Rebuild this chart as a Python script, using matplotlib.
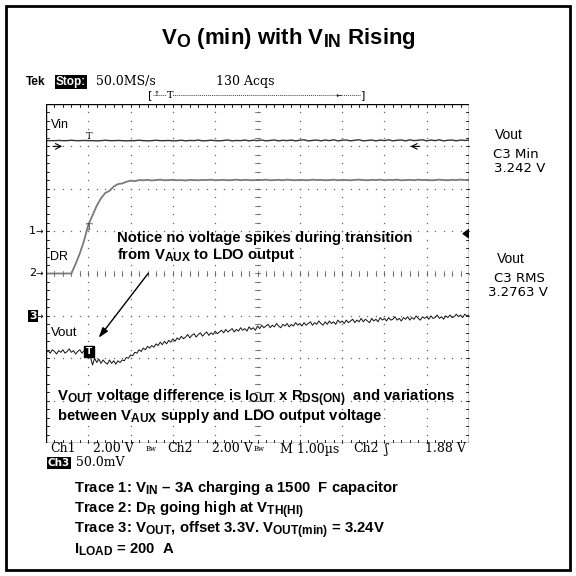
import numpy as np
import matplotlib
matplotlib.use("Agg")
import matplotlib.pyplot as plt
from matplotlib.patches import Rectangle, Polygon
import matplotlib._mathtext as _mt

_mt.SHRINK_FACTOR = 0.8
plt.rcParams['mathtext.fontset'] = 'custom'
plt.rcParams['mathtext.bf'] = 'Liberation Sans:bold'
plt.rcParams['mathtext.rm'] = 'Liberation Sans'
plt.rcParams['mathtext.default'] = 'bf'

# ---------------- data ----------------
# scope settings
ch1_scale = 2.0    # V/div
ch2_scale = 2.0    # V/div
ch3_scale = 50.0   # mV/div (offset 3.3 V)
ch1_pos, ch2_pos, ch3_pos = 1.0, 0.0, -1.0   # ground marker positions (div)
t_start, t_stop = 0.0, 10.0                  # us (1.00 us/div)
trig_t = 1.02
trig_level = 1.88

# Ch1: Vin (V), sampled every 0.1 us
vin = [4.27,4.27,4.27,4.28,4.27,4.27,4.29,4.27,4.27,4.28,
       4.27,4.27,4.26,4.27,4.29,4.27,4.27,4.28,4.27,4.26,
       4.27,4.27,4.29,4.27,4.26,4.27,4.29,4.27,4.27,4.28,
       4.26,4.27,4.29,4.26,4.28,4.27,4.30,4.26,4.27,4.29,
       4.27,4.26,4.28,4.30,4.26,4.28,4.27,4.30,4.26,4.29,
       4.27,4.30,4.26,4.28,4.30,4.26,4.29,4.27,4.30,4.26,
       4.29,4.31,4.26,4.28,4.30,4.26,4.30,4.27,4.31,4.26,
       4.29,4.30,4.26,4.29,4.31,4.26,4.28,4.30,4.26,4.30,
       4.27,4.31,4.26,4.29,4.30,4.26,4.31,4.27,4.29,4.31,
       4.26,4.30,4.27,4.31,4.26,4.29,4.30,4.26,4.30,4.28,
       4.29]

# Ch2: DR (V), sampled every 0.1 us
dr = [0.00,0.00,0.00,0.00,0.00,0.00,0.00,0.45,0.95,1.55,
      2.30,2.75,3.20,3.55,3.80,3.90,4.10,4.22,4.25,4.33,
      4.38,4.36,4.41,4.40,4.42,4.39,4.41,4.43,4.40,4.41,
      4.42,4.40,4.41,4.39,4.42,4.41,4.40,4.42,4.41,4.43,
      4.40,4.41,4.42,4.40,4.41,4.43,4.40,4.42,4.41,4.40,
      4.42,4.41,4.43,4.40,4.41,4.42,4.40,4.43,4.41,4.40,
      4.42,4.41,4.40,4.43,4.41,4.42,4.40,4.41,4.43,4.40,
      4.42,4.41,4.40,4.42,4.43,4.41,4.40,4.42,4.41,4.43,
      4.40,4.42,4.41,4.43,4.40,4.41,4.42,4.40,4.43,4.41,
      4.42,4.40,4.41,4.43,4.41,4.40,4.42,4.41,4.43,4.41,
      4.42]

# Ch3: Vout - 3.3 V (mV), sampled every 0.05 us
vout_mv = [-43,-41,-44,-40,-42,-45,-41,-43,-40,-44,-42,-39,-43,-41,-45,-42,-40,-44,-41,-42,
           -44,-48,-58,-50,-55,-51,-56,-52,-55,-57,-52,-56,-53,-57,-53,-55,-52,-53,-49,-50,
           -46,-47,-43,-44,-40,-42,-38,-40,-36,-38,-35,-37,-33,-35,-31,-34,-30,-33,-29,-31,
           -27,-30,-26,-28,-24,-27,-25,-22,-26,-23,-21,-25,-22,-20,-24,-21,-19,-23,-20,-22,
           -18,-21,-19,-17,-20,-16,-19,-17,-15,-19,-16,-18,-14,-17,-15,-18,-13,-16,-14,-17,
           -12,-15,-11,-14,-12,-10,-14,-11,-13,-9,-12,-14,-10,-12,-9,-13,-10,-12,-8,-11,
           -9,-12,-8,-11,-9,-7,-11,-8,-10,-6,-9,-11,-7,-10,-6,-9,-7,-10,-5,-8,
           -6,-9,-5,-8,-6,-4,-8,-5,-7,-3,-7,-4,-6,-8,-3,-6,-4,-7,-2,-5,
           -3,-6,-2,-5,-4,-1,-5,-3,-6,-2,-4,-1,-5,-2,-4,0,-3,-5,-1,-3,
           -1,-4,0,-3,-2,1,-3,-1,-4,0,-2,1,-2,-1,2,-1,1,-2,2,0,
           1]

# ---------------- figure ----------------
W = H = 576
fig = plt.figure(figsize=(5.76, 5.76), dpi=100)

def P(x, y):
    return (x / W, 1 - y / H)

# outer frame
fig.patches.append(Rectangle(P(6, 570), 564 / W, 564 / H, transform=fig.transFigure,
                             fill=False, lw=2.0, ec='black'))

gl, gt, gr, gb = 46, 104, 469, 443
ax = fig.add_axes([gl / W, 1 - gb / H, (gr - gl) / W, (gb - gt) / H])
ax.set_xlim(0, 10)
ax.set_ylim(-4, 4)
ax.axis('off')

# border
ax.add_patch(Rectangle((0, -4), 10, 8, fill=False, lw=1.0, ec='black', zorder=5))

dotc = '#666666'
fine = np.arange(0, 10.001, 0.2)
fine_y = np.arange(-4, 4.001, 0.2)
for gx in range(1, 10):
    ax.plot(np.full_like(fine_y, gx), fine_y, ls='none', marker='s', ms=0.9, mew=0, color=dotc)
for gy in range(-3, 4):
    ax.plot(fine, np.full_like(fine, gy), ls='none', marker='s', ms=0.9, mew=0, color=dotc)
# centre line ticks
for v in fine:
    ax.plot([v, v], [-0.07, 0.07], color=dotc, lw=0.6)
for v in fine_y:
    ax.plot([4.93, 5.07], [v, v], color=dotc, lw=0.6)
# border ticks
for v in fine:
    ax.plot([v, v], [4, 3.93], color='black', lw=0.6)
    ax.plot([v, v], [-4, -3.93], color='black', lw=0.6)
for v in fine_y:
    ax.plot([0, 0.07], [v, v], color='black', lw=0.6)
    ax.plot([10, 9.93], [v, v], color='black', lw=0.6)

t = np.linspace(t_start, t_stop, len(vin))
ax.plot(t, ch1_pos + np.array(vin) / ch1_scale, color='#333333', lw=1.0, zorder=3)
t2 = np.linspace(t_start, t_stop, len(dr))
ax.plot(t2, ch2_pos + np.array(dr) / ch2_scale, color='#7a7a7a', lw=1.3, zorder=3)
t3 = np.linspace(t_start, t_stop, len(vout_mv))
ax.plot(t3, ch3_pos + np.array(vout_mv) / ch3_scale, color='#111111', lw=0.7, zorder=4)

# trigger markers on traces
ax.text(trig_t, ch1_pos + vin[10] / ch1_scale, 'T', fontsize=7, family='DejaVu Serif',
        ha='center', va='bottom', color='#222222')
ax.text(trig_t, ch2_pos + trig_level / ch2_scale + 0.05, 'T', fontsize=7, family='DejaVu Serif',
        ha='center', va='bottom', color='#444444')
vy = ch3_pos + vout_mv[20] / ch3_scale
ax.add_patch(Rectangle((trig_t - 0.11, vy - 0.1), 0.22, 0.28, color='black', zorder=6))
ax.text(trig_t, vy + 0.04, 'T', fontsize=6.5, fontweight='bold', family='DejaVu Sans', color='white',
        ha='center', va='center', zorder=7)
# trigger level marker on right
ax.add_patch(Polygon([[9.86, ch2_pos + trig_level / ch2_scale], [10.0, ch2_pos + trig_level / ch2_scale + 0.1],
                      [10.0, ch2_pos + trig_level / ch2_scale - 0.1]], closed=True, color='black', zorder=6))
# small arrows at Vin level row
ax.annotate('', xy=(0.45, 3.0), xytext=(0.1, 3.0), arrowprops=dict(arrowstyle='->', lw=0.8, color='black'))
ax.annotate('', xy=(8.55, 3.0), xytext=(8.9, 3.0), arrowprops=dict(arrowstyle='->', lw=0.8, color='black'))

# trace labels inside graticule
ax.text(0.12, 3.5, 'Vin', fontsize=9, family='Liberation Sans', va='center', ha='left')
ax.text(0.1, 0.4, 'DR', fontsize=9, family='Liberation Sans', va='center', ha='left')
ax.text(0.12, -1.4, 'Vout', fontsize=9.5, family='Liberation Sans', va='center', ha='left')

# ---------------- figure texts ----------------
fig.text(*P(288, 44), r'V$_{O}$ (min) with V$_{IN}$ Rising', fontsize=16, fontweight='bold',
         family='Liberation Sans', ha='center', va='baseline')

fig.text(*P(26, 82), 'Tek', fontsize=8.5, fontweight='bold', family='Liberation Sans', va='center')
fig.text(*P(56, 82), 'Stop:', fontsize=8.5, fontweight='bold', family='Liberation Sans', va='center',
         color='white', bbox=dict(boxstyle='square,pad=0.08', fc='black', ec='none'))
fig.text(*P(96, 82), '50.0MS/s', fontsize=9, family='DejaVu Serif', va='center')
fig.text(*P(216, 82), '130 Acqs', fontsize=9, family='DejaVu Serif', va='center')

# record bracket
fig.text(*P(150, 95), '[', fontsize=8, family='DejaVu Sans', va='center', ha='center')
fig.text(*P(363, 95), ']', fontsize=8, family='DejaVu Sans', va='center', ha='center')
fig.lines.append(plt.Line2D([153 / W, 360 / W], [1 - 95 / H, 1 - 95 / H], transform=fig.transFigure,
                            color='#444444', lw=0.7, ls=(0, (1, 1))))
fig.text(*P(157, 94), '↑', fontsize=5, family='DejaVu Sans', va='center', ha='center')
fig.text(*P(170, 95), 'T', fontsize=7, family='DejaVu Serif', va='center', ha='center',
         bbox=dict(boxstyle='square,pad=0', fc='white', ec='none'))
fig.text(*P(339, 95), '←', fontsize=6, family='DejaVu Sans', va='center', ha='center',
         bbox=dict(boxstyle='square,pad=0', fc='white', ec='none'))

# channel ground markers
for lab, yy in (('1', 231), ('2', 273)):
    fig.text(*P(29, yy), lab, fontsize=8, family='DejaVu Sans', va='center', ha='left')
fig.text(*P(29, 316), '3', fontsize=8, fontweight='bold', family='DejaVu Sans', va='center', ha='left',
         color='white', bbox=dict(boxstyle='square,pad=0.1', fc='black', ec='none'))
for yy in (231, 273, 316):
    fig.text(*P(36, yy), '→', fontsize=6.5, family='DejaVu Sans', va='center', ha='left')

# right side measurements
fig.text(*P(495, 135), 'Vout', fontsize=10, family='Liberation Sans', va='center')
fig.text(*P(493, 154), 'C3 Min', fontsize=9.5, family='DejaVu Sans', va='center')
fig.text(*P(494, 168), '3.242 V', fontsize=9.5, family='DejaVu Sans', va='center')
fig.text(*P(497, 259), 'Vout', fontsize=10, family='Liberation Sans', va='center')
fig.text(*P(494, 278), 'C3 RMS', fontsize=9.5, family='DejaVu Sans', va='center')
fig.text(*P(488, 292), '3.2763 V', fontsize=9.5, family='DejaVu Sans', va='center')

# annotations
fig.text(*P(117, 242), 'Notice no voltage spikes during transition', fontsize=10.7, fontweight='bold',
         family='Liberation Sans', va='baseline')
fig.text(*P(117, 259), r'from V$_{AUX}$ to LDO output', fontsize=10.7, fontweight='bold',
         family='Liberation Sans', va='baseline')
ax.annotate('', xy=P(97, 340), xytext=P(150, 271), xycoords='figure fraction',
            textcoords='figure fraction',
            arrowprops=dict(arrowstyle='-|>,head_length=0.6,head_width=0.2', lw=1.0, color='black'))
fig.text(*P(57, 401), r'V$_{OUT}$ voltage difference is I$_{OUT}$ x R$_{DS(ON)}$  and variations',
         fontsize=10.7, fontweight='bold', family='Liberation Sans', va='baseline')
fig.text(*P(57, 420), r'between V$_{AUX}$ supply and LDO output voltage',
         fontsize=10.7, fontweight='bold', family='Liberation Sans', va='baseline')

# scope status line
sy = 449
for xx, s in ((50, 'Ch1'), (93, '2.00 V'), (167, 'Ch2'), (212, '2.00 V'), (280, 'M 1.00µs'),
              (353, 'Ch2'), (425, '1.88 V')):
    fig.text(*P(xx, sy), s, fontsize=9, family='DejaVu Serif', va='center')
for xx in (146, 254):
    fig.text(*P(xx, sy), 'Bw', fontsize=5, family='DejaVu Serif', va='center')
fig.text(*P(384, sy), 'ʃ', fontsize=9, family='DejaVu Serif', va='center')
fig.text(*P(48, 463), 'Ch3', fontsize=7.5, fontweight='bold', family='DejaVu Sans', va='center', color='white',
         bbox=dict(boxstyle='square,pad=0.05', fc='black', ec='none'))
fig.text(*P(76, 463), '50.0mV', fontsize=9, family='DejaVu Serif', va='center')

# caption lines
cap = [r'Trace 1: V$_{IN}$ – 3A charging a 1500  F capacitor',
       r'Trace 2: D$_{R}$ going high at V$_{TH(HI)}$',
       r'Trace 3: V$_{OUT}$, offset 3.3V. V$_{OUT(min)}$ = 3.24V',
       r'I$_{LOAD}$ = 200  A']
for i, s in enumerate(cap):
    fig.text(*P(74, 492 + 20.5 * i), s, fontsize=10.7, fontweight='bold', family='Liberation Sans',
             va='baseline')

fig.savefig('out.png', dpi=100)
